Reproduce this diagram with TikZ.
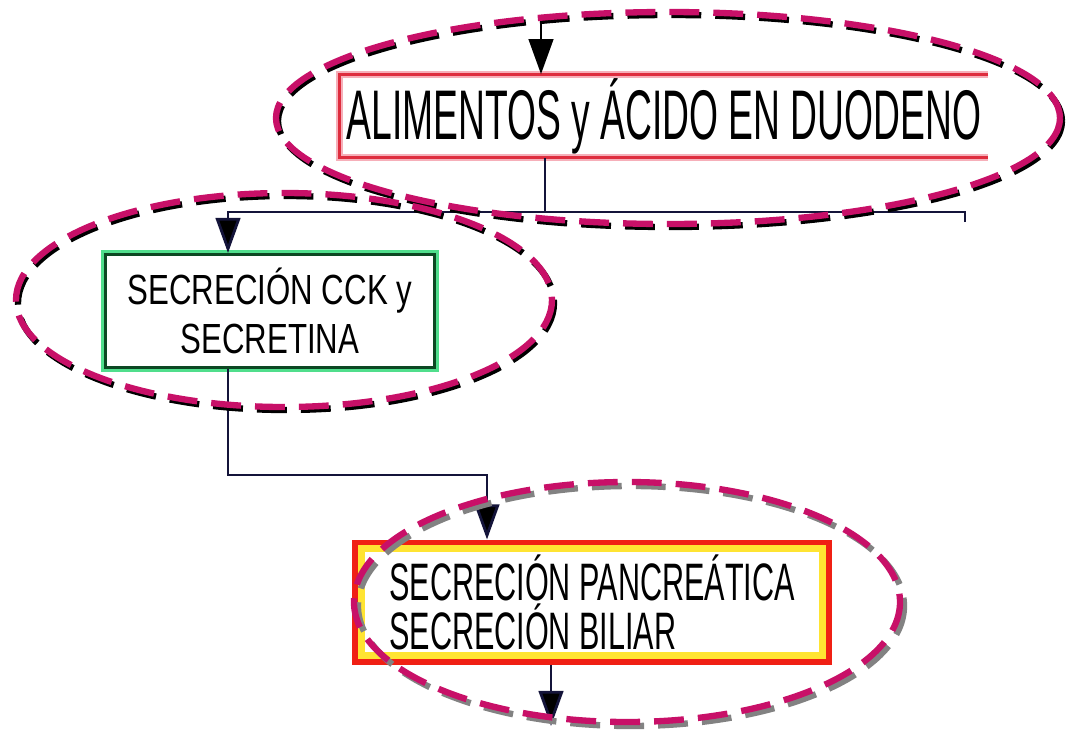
\documentclass[tikz,border=0pt]{standalone}
\usepackage{fontspec}
\setmainfont{Liberation Sans}
\usepackage{graphicx}
\usepackage{xcolor}
\usetikzlibrary{arrows.meta,positioning}

\definecolor{ringpink}{RGB}{200,16,104}
\definecolor{ringgrey}{RGB}{130,130,130}
\definecolor{duodred}{RGB}{222,45,62}
\definecolor{duodglow}{RGB}{246,175,185}
\definecolor{cckgreen}{RGB}{12,72,34}
\definecolor{cckglow}{RGB}{80,222,140}
\definecolor{pancred}{RGB}{240,32,20}
\definecolor{pancyellow}{RGB}{255,228,50}
\definecolor{wirenavy}{RGB}{20,20,58}

\newcommand{\handtxt}[2]{\scalebox{#1}[1]{#2}}

\begin{document}
\begin{tikzpicture}[x=0.02cm, y=-0.02cm, >={Triangle[length=20pt,width=14pt,fill=black]},
  wire/.style={draw=wirenavy, line width=1.6pt},
  ring/.style={draw=ringpink, line width=3.6pt, dash pattern=on 17pt off 8pt},
  ringshadow/.style={ring, draw=black}]
  \useasboundingbox (0,0) rectangle (1073,731);

  % Define blocks
  \node [minimum width=12.96cm, minimum height=1.66cm, inner sep=0pt,
    font=\fontsize{40}{44}\selectfont] (duodeno) at (664,116)
    {\handtxt{0.53}{ALIMENTOS y ÁCIDO EN DUODENO}};
  \draw [duodglow, line width=4pt] (duodeno.north east) -- (duodeno.north west)
    -- (duodeno.south west) -- (duodeno.south east);
  \draw [duodred, line width=1.6pt] (duodeno.north east) -- (duodeno.north west)
    -- (duodeno.south west) -- (duodeno.south east);

  \node [draw=cckgreen, line width=1.7pt, fill=white,
    preaction={draw=cckglow, line width=5pt},
    minimum width=6.6cm, minimum height=2.26cm, align=center,
    font=\fontsize{24}{28}\selectfont] (cck) at (270,311)
    {\handtxt{0.74}{SECRECIÓN CCK y}\\ \handtxt{0.74}{SECRETINA}};

  \node [draw=pancred, line width=5.7pt, fill=white,
    minimum width=9.4cm, minimum height=2.3cm, align=left,
    font=\fontsize{30}{28}\selectfont] (pancr) at (592,602)
    {\handtxt{0.58}{SECRECIÓN PANCREÁTICA}\\ \handtxt{0.58}{SECRECIÓN BILIAR}};
  \draw [pancyellow, line width=4pt] ([shift={(9,9)}]pancr.north west)
    rectangle ([shift={(-9,-9)}]pancr.south east);

  % Connect blocks
  \coordinate (top) at (541,15);
  \coordinate (split) at (545,212);
  \coordinate (rightend) at (965,222);
  \coordinate (cckin) at (228,212);
  \coordinate (bend) at (487,475);
  \coordinate (bottom) at (551,726);

  \draw [->, line width=1.6pt] (top) -- (top |- duodeno.north);
  \draw [wire] (split |- duodeno.south) -- (split);
  \draw [wire, ->] (rightend) |- (cckin) -- (cckin |- cck.north);
  \draw [wire, ->] (cckin |- cck.south) |- (bend) -- (bend |- pancr.north);
  \draw [wire, ->] (pancr.south -| bottom) -- (bottom);

  % Dashed rings
  \draw [ringshadow, shift={(2,3)}] (668,118) ellipse [x radius=392, y radius=106];
  \draw [ring] (668,118) ellipse [x radius=392, y radius=106];
  \draw [ringshadow, shift={(2,3)}] (284,300) ellipse [x radius=268, y radius=107];
  \draw [ring] (284,300) ellipse [x radius=268, y radius=107];
  \draw [ringshadow, draw=ringgrey, shift={(4,4)}] (627,602) ellipse [x radius=273, y radius=120];
  \draw [ring] (627,602) ellipse [x radius=273, y radius=120];
\end{tikzpicture}
\end{document}
